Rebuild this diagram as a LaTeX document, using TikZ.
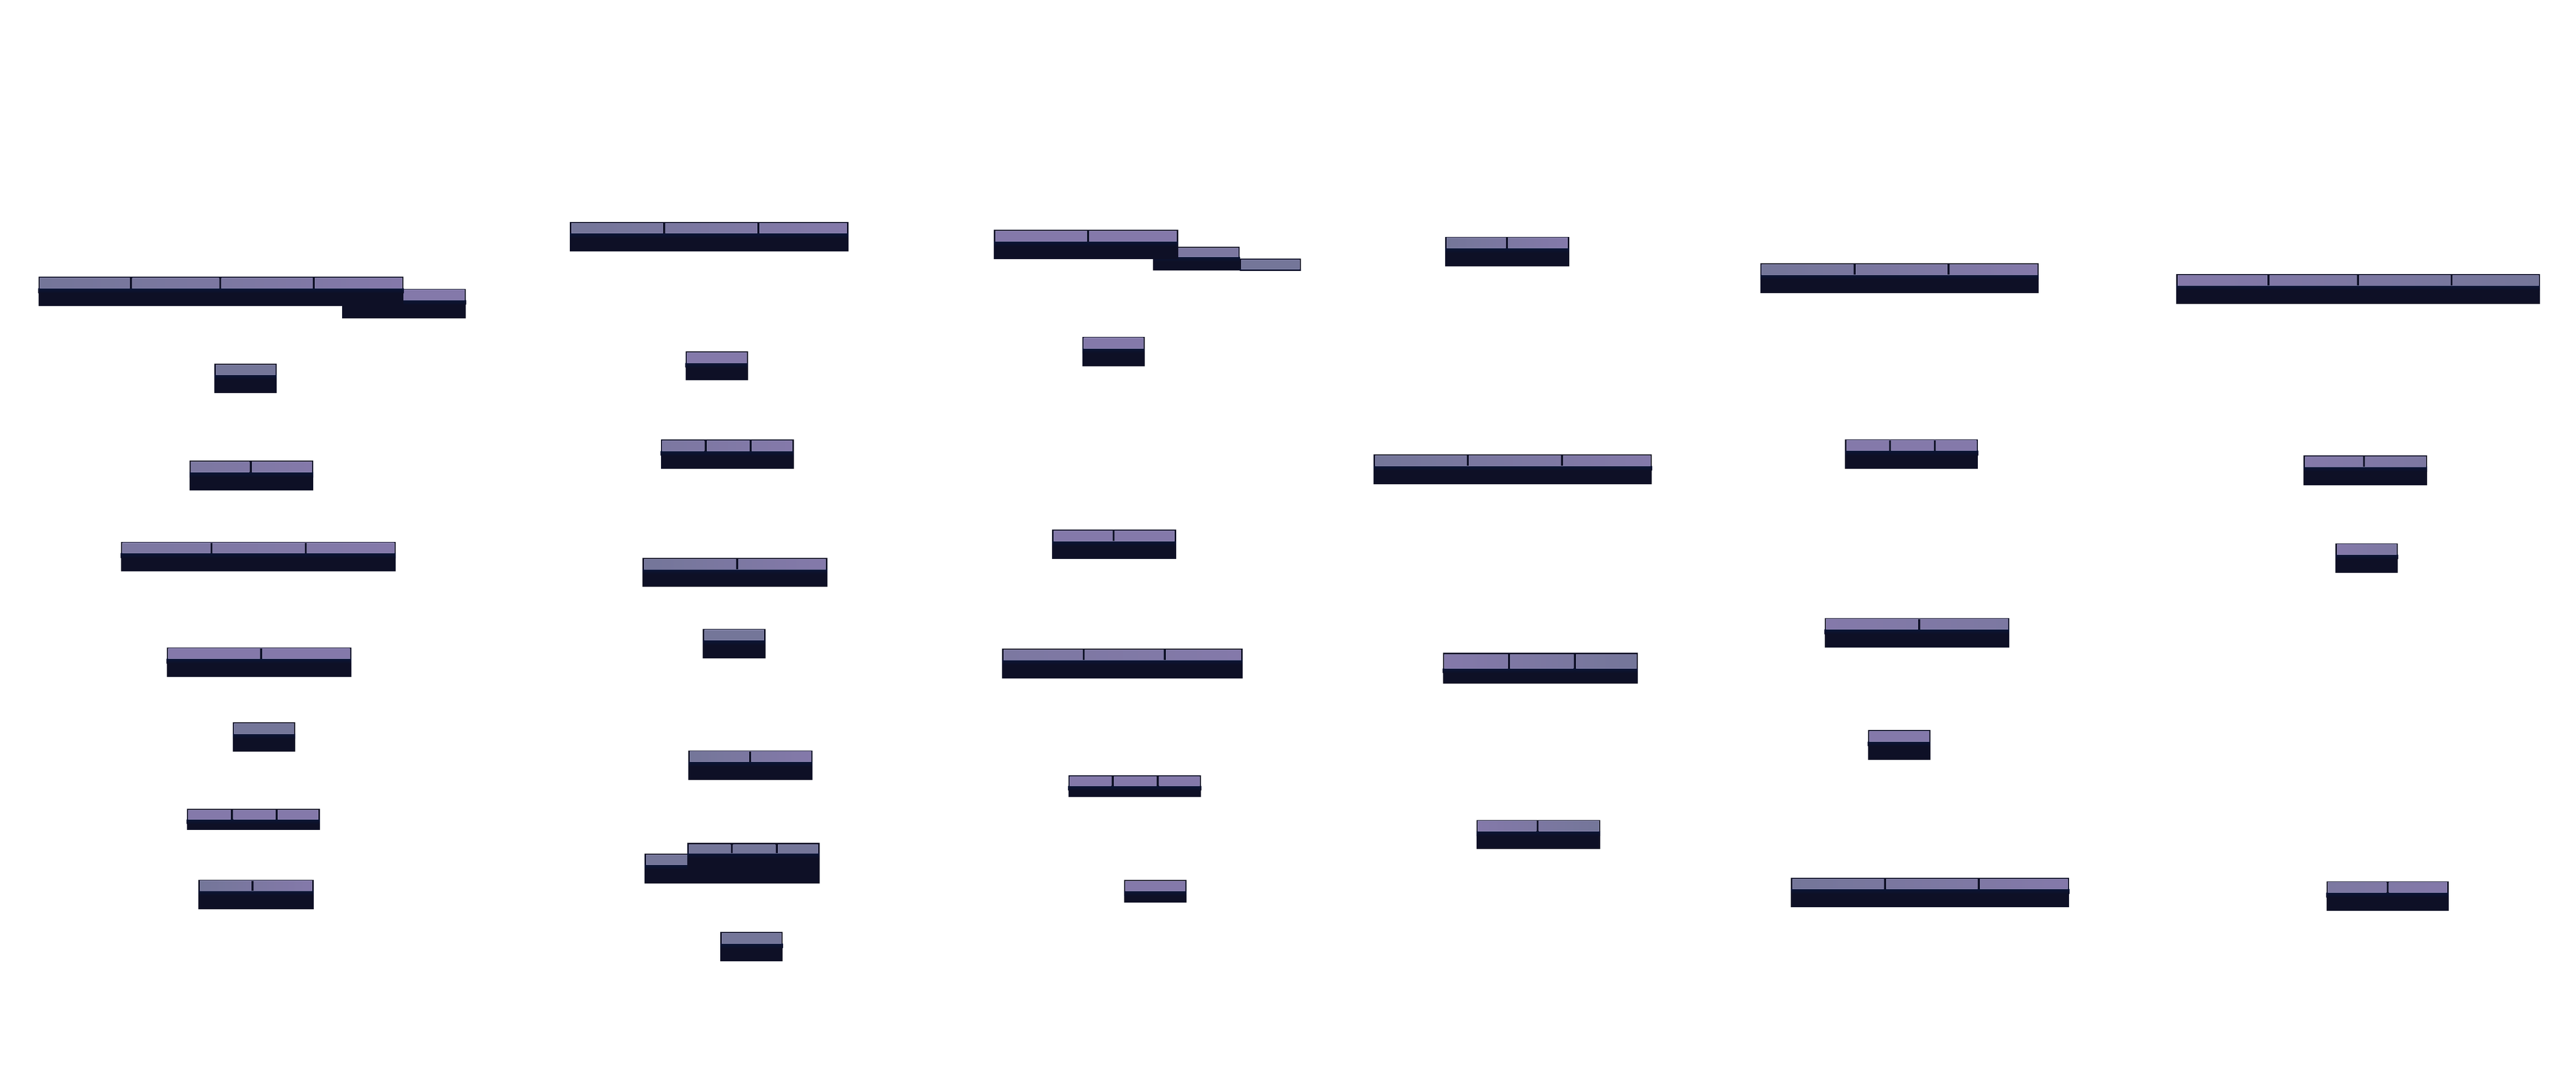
\documentclass[tikz,border=0pt]{standalone}
\usetikzlibrary{calc}
\definecolor{kdark}{HTML}{0E1026}
\definecolor{kband}{HTML}{0A1536}
\definecolor{kg}{HTML}{747699}
\definecolor{kp}{HTML}{8479AA}
\definecolor{km}{HTML}{7C78A1}
\definecolor{kedgec}{HTML}{9794BC}
\tikzset{
  kbody/.style={fill=kdark},
  kedge/.style={draw=kedgec,line width=0.25pt,draw opacity=0.7},
}
% x1 y1 x2 y2 divs stripH inset colL colR
\newcommand{\kbar}[9]{%
  \fill[kbody] (#1,#2) rectangle (#3,#4);
  \shade[top color=kband,bottom color=kdark] (#1,#2+#7+#6) rectangle (#3,{min(#2+#7+#6+3,#4)});
  \shade[left color=#8,right color=#9] (#1+0.9,#2+#7) rectangle (#3-0.9,#2+#7+#6);
  \draw[kedge] (#1+0.9,#2+#7) rectangle (#3-0.9,#2+#7+#6);
  \def\kdivs{#5}%
  \ifx\kdivs\empty\else
    \foreach \d in {#5} {
      \fill[kbody] (\d-0.75,#2+#7-0.1) rectangle (\d+0.75,#2+#7+#6+0.1);
      \draw[kedge] (\d-0.75,#2+#7) -- (\d-0.75,#2+#7+#6) (\d+0.75,#2+#7) -- (\d+0.75,#2+#7+#6);
    }
  \fi
}
\begin{document}
\begin{tikzpicture}[x=1pt,y=-1pt]
\useasboundingbox (0,0) rectangle (1568,661.5);
\fill[white] (0,0) rectangle (1568,661.5);
% column 1
\kbar{208.2}{175.8}{283.6}{193.7}{}{6.1}{0.7}{kp}{kp}
\kbar{23.4}{168.5}{245.7}{186.4}{79.7,134,191}{6.3}{0.7}{kg}{kp}
\kbar{130.5}{221.4}{168.4}{239.2}{}{6.1}{0.7}{kg}{kg}
\kbar{115.4}{280.5}{190.7}{298.5}{152.6}{6.2}{0.7}{km}{kp}
\kbar{73.6}{329.8}{240.9}{347.7}{128.7,186.1}{6.2}{0.7}{km}{kp}
\kbar{101.5}{394.1}{213.8}{412}{158.9}{6.2}{0.7}{kp}{kp}
\kbar{141.7}{439.7}{179.7}{457.6}{}{6.2}{0.7}{kg}{kg}
\kbar{113.7}{492.5}{194.6}{505.3}{141.2,168.4}{5.6}{0.6}{kp}{kp}
\kbar{120.8}{535.5}{190.9}{553.4}{153.7}{6}{0.7}{kg}{kp}
% column 2
\kbar{346.9}{135.1}{516.4}{152.9}{404.3,461.6}{6.2}{0.7}{kg}{kp}
\kbar{417.3}{214}{455.3}{231.5}{}{6.2}{0.7}{kp}{kp}
\kbar{402.2}{267.6}{483.1}{285.3}{429.5,456.9}{6.2}{0.7}{km}{kp}
\kbar{391.2}{339.6}{503.5}{357.3}{448.7}{6.2}{0.7}{kg}{kp}
\kbar{427.9}{382.8}{465.9}{400.9}{}{6.2}{0.7}{kg}{kg}
\kbar{419}{456.8}{494.5}{474.7}{456.6}{6.2}{0.7}{kg}{kp}
\kbar{392.4}{519.7}{430}{537.7}{}{6}{0.7}{kg}{kg}
\kbar{418.4}{513.1}{498.8}{537.7}{445.4,472.8}{5.1}{1.1}{kg}{kg}
\kbar{438.5}{567.4}{476.5}{585.3}{}{6.2}{0.7}{kg}{kg}
% column 3
\kbar{701.9}{150.3}{754.6}{164.7}{}{5.2}{0.8}{km}{km}
\kbar{754.6}{157.4}{791.9}{164.7}{}{5.8}{0.7}{kg}{kg}
\kbar{605}{139.9}{717.1}{157.8}{662.3}{6.3}{0.7}{kp}{kp}
\kbar{658.8}{205}{696.8}{222.9}{}{6.3}{0.7}{kp}{kp}
\kbar{640.5}{322.4}{715.8}{340.3}{677.8}{6.2}{0.7}{kp}{kp}
\kbar{610}{394.8}{756.3}{412.9}{659.6,708.9}{6.2}{0.7}{km}{kp}
\kbar{650.3}{472.1}{731.1}{485}{677.3,704.7}{5.6}{0.6}{kp}{kp}
\kbar{684.2}{535.6}{722.2}{549.4}{}{6}{0.7}{kp}{kp}
% column 4
\kbar{879.7}{144.1}{955.1}{162.2}{917.3}{6.2}{0.6}{kg}{kp}
\kbar{836.2}{276.7}{1005.5}{294.7}{893.4,950.7}{6.2}{0.6}{kg}{kp}
\kbar{878.3}{397.3}{996.9}{416.2}{918.5,958.6}{8.4}{1.1}{kp}{kg}
\kbar{898.7}{499.1}{974.1}{516.9}{935.9}{6.2}{0.6}{kp}{kg}
% column 5
\kbar{1071.5}{160.4}{1240.9}{178.4}{1128.9,1186.1}{6.2}{0.6}{kg}{kp}
\kbar{1123.1}{267.5}{1204}{285.4}{1150.4,1177.7}{6.2}{0.6}{kp}{kp}
\kbar{1110.6}{376.3}{1223}{394.3}{1168.2}{6.2}{0.6}{kp}{km}
\kbar{1137}{444.5}{1175}{462.5}{}{6.2}{0.6}{kp}{kp}
\kbar{1090.1}{534.4}{1259.5}{552.1}{1147.3,1204.4}{6.2}{0.6}{kg}{kp}
% column 6
\kbar{1324.7}{166.9}{1546.1}{184.9}{1380.8,1435.2,1492.2}{6.2}{0.6}{kp}{kg}
\kbar{1402.1}{277.3}{1477.4}{295.3}{1438.9}{6.2}{0.6}{kp}{km}
\kbar{1421.6}{330.7}{1459.6}{348.7}{}{6.2}{0.6}{kp}{km}
\kbar{1416.1}{536.5}{1490.4}{554.4}{1453.3}{6.2}{0.6}{km}{kp}
\end{tikzpicture}
\end{document}
